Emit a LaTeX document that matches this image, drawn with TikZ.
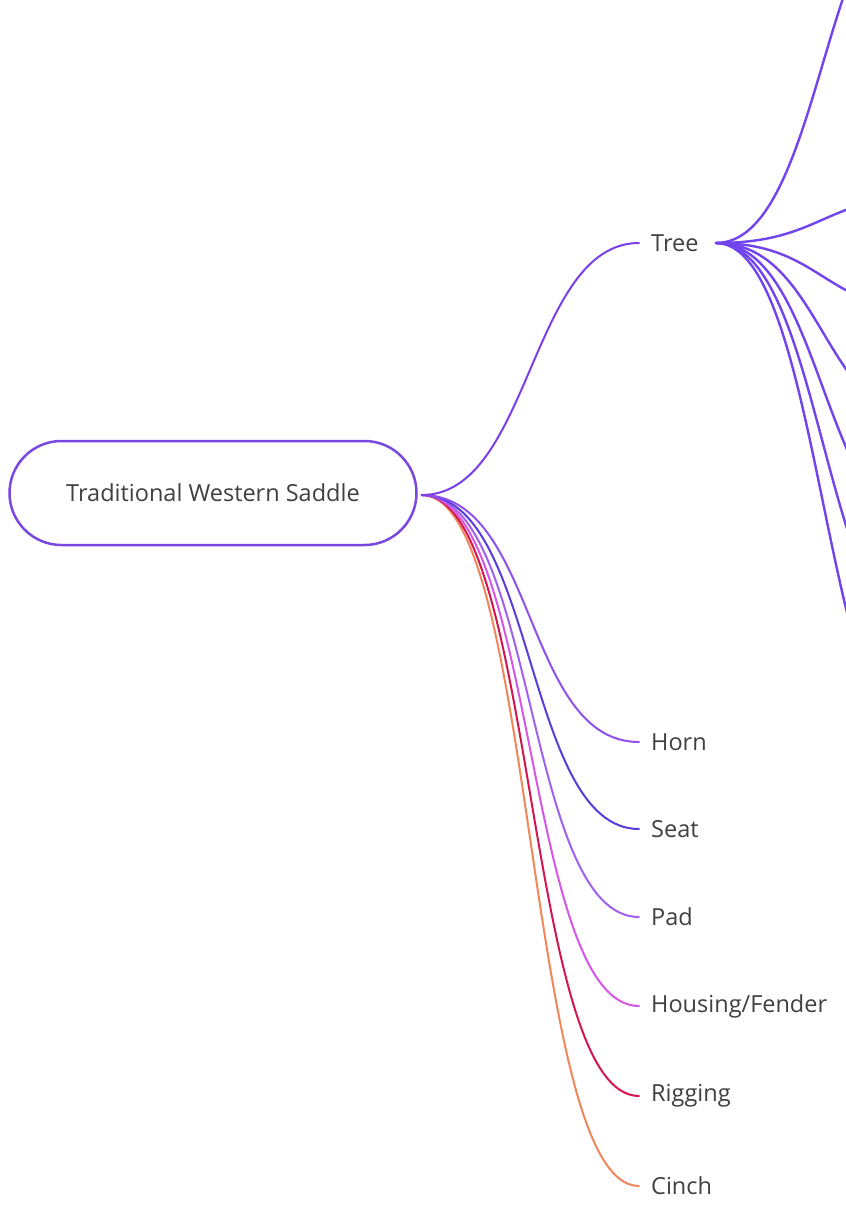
\documentclass[tikz,border=0pt]{standalone}
\usepackage{fontspec}
\setmainfont{Open Sans}
\definecolor{txt}{HTML}{404040}
\definecolor{rootc}{HTML}{7A48E0}
\definecolor{treec}{HTML}{7B3FEA}
\definecolor{hornc}{HTML}{9050EC}
\definecolor{seatc}{HTML}{5A3CDC}
\definecolor{padc}{HTML}{A060F0}
\definecolor{housc}{HTML}{D656E6}
\definecolor{rigc}{HTML}{D4154F}
\definecolor{cinc}{HTML}{F0865A}
\definecolor{subc}{HTML}{7244EE}
\begin{document}
\begin{tikzpicture}[x=1pt,y=-1pt,
  rootbox/.style={draw=rootc, line width=2.5pt, rounded corners=52pt,
    minimum width=407pt, minimum height=104pt, text=txt,
    font=\fontsize{23.5}{28}\selectfont},
  leaf/.style={anchor=west, inner xsep=12pt, inner ysep=2pt, text=txt,
    font=\fontsize{23.5}{28}\selectfont},
  branch/.style={line width=2pt, line cap=round},
  subbranch/.style={line width=2.4pt, line cap=round, draw=subc}]
\useasboundingbox (0,0) rectangle (846,1205);
\clip (0,0) rectangle (846,1205);
\fill[white] (0,0) rectangle (846,1205);

% nodes
\node[rootbox] (root) at (213,493) {Traditional Western Saddle};
\node[leaf] (tree) at (639,243) {Tree};
\node[leaf] (horn) at (639,742) {Horn};
\node[leaf] (seat) at (639,829) {Seat};
\node[leaf] (pad) at (639,917) {Pad};
\node[leaf] (hous) at (639,1006) {Housing/Fender};
\node[leaf] (rig) at (639,1096) {Rigging};
\node[leaf] (cin) at (639,1186) {Cinch};

\coordinate (rhub) at ([xshift=4pt,yshift=-2pt]root.east);
\coordinate (thub) at (716,243);

% tree children (beyond the right edge)
\coordinate (t1) at (930,-117);
\coordinate (t2) at (930,196);
\coordinate (t3) at (930,310);
\coordinate (t4) at (930,422);
\coordinate (t5) at (930,533);
\coordinate (t6) at (930,644);
\coordinate (t7) at (930,762);

% root connectors
\draw[branch, draw=cinc] (rhub) .. controls +(115,0) and +(-115,0) .. (cin.west);
\draw[branch, draw=rigc] (rhub) .. controls +(115,0) and +(-115,0) .. (rig.west);
\draw[branch, draw=housc] (rhub) .. controls +(115,0) and +(-115,0) .. (hous.west);
\draw[branch, draw=padc] (rhub) .. controls +(115,0) and +(-115,0) .. (pad.west);
\draw[branch, draw=seatc] (rhub) .. controls +(115,0) and +(-115,0) .. (seat.west);
\draw[branch, draw=hornc] (rhub) .. controls +(115,0) and +(-115,0) .. (horn.west);
\draw[branch, draw=treec] (rhub) .. controls +(109,0) and +(-109,0) .. (tree.west);

% tree connectors
\foreach \t in {t1,t2,t3,t4,t5,t6,t7}
  \draw[subbranch] (thub) .. controls +(107,0) and +(-107,0) .. (\t);
\end{tikzpicture}
\end{document}
